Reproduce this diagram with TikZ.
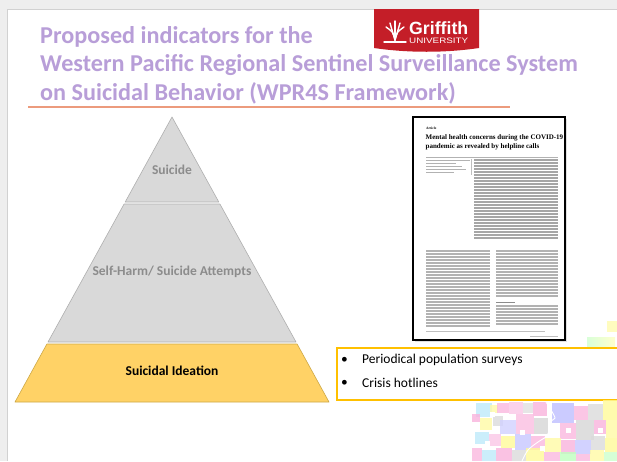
\documentclass[tikz,border=0pt]{standalone}
\usepackage{fontspec}
\setmainfont{Carlito}
\newfontfamily\artserif{Liberation Serif}
\newfontfamily\logosans{Liberation Sans}
\usetikzlibrary{calc}
\definecolor{titlepurple}{RGB}{184,158,216}
\definecolor{rulesalmon}{RGB}{236,155,125}
\definecolor{pyrgray}{RGB}{217,217,217}
\definecolor{pyredge}{RGB}{175,175,175}
\definecolor{pyrtext}{RGB}{140,140,140}
\definecolor{ideafill}{RGB}{255,210,102}
\definecolor{ideaedge}{RGB}{205,168,70}
\definecolor{boxyellow}{RGB}{255,192,0}
\definecolor{griffred}{RGB}{196,30,40}
\definecolor{slidebg}{RGB}{238,238,238}
\tikzset{
  titletext/.style={anchor=base west, inner sep=0pt, text=titlepurple,
    font=\fontsize{24.2}{28}\selectfont\bfseries},
  levelgray/.style={fill=pyrgray, draw=pyredge, line width=0.6pt, line join=round},
  levelyellow/.style={fill=ideafill, draw=ideaedge, line width=0.6pt, line join=round},
  leveltext/.style={inner sep=0pt, text=pyrtext, font=\fontsize{13.5}{15}\selectfont\bfseries},
  bullettext/.style={anchor=west, inner sep=0pt, font=\fontsize{13.5}{15}\selectfont},
  textline/.style={draw=black!30, line width=1.3pt},
  tile/.style={opacity=0.8}
}
\begin{document}
\begin{tikzpicture}[x=1pt,y=-1pt]
\useasboundingbox (0,0) rectangle (617,461);
% window background and slide
\fill[slidebg] (0,0) rectangle (617,461);
\fill[white] (7,9) rectangle (617,461);
\draw[black!18, line width=0.6pt] (7,461) -- (7,9) -- (617,9);

% title
\node[titletext] (title1) at (40,43) {Proposed indicators for the};
\node[titletext] (title2) at (40,71) {Western Pacific Regional Sentinel Surveillance System};
\node[titletext] (title3) at (40,100) {on Suicidal Behavior (WPR4S Framework)};
\draw[rulesalmon, line width=1.1pt] (28,107) -- (510,107);

% university logo
\fill[griffred] (374,9) -- (479,9) -- (479,48)
  .. controls (445,53) and (408,53) .. (374,48) -- cycle;
\begin{scope}[white, line width=1.4pt, line cap=round]
  \draw (384,42) -- (406,42);
  \draw (395,40) .. controls (393,32) .. (386,27);
  \draw (395,40) .. controls (392,30) .. (390,23);
  \draw (395,40) -- (395,21);
  \draw (395,40) .. controls (398,30) .. (400,23);
  \draw (395,40) .. controls (397,32) .. (404,27);
\end{scope}
\node[anchor=base west, inner sep=0pt, text=white] (logoname) at (409,34.5)
  {\resizebox{59pt}{!}{\logosans\bfseries Griffith}};
\node[anchor=north west, inner sep=0pt, text=white] (logouni) at (409,37.5)
  {\resizebox{59pt}{5.5pt}{\logosans UNIVERSITY}};

% pyramid
\coordinate (apex) at (172,117);
\filldraw[levelgray] (apex) -- (218.8,202) -- (125.2,202) -- cycle;
\filldraw[levelgray] (124.1,204) -- (219.9,204) -- (296,342) -- (48,342) -- cycle;
\filldraw[levelyellow] (46.9,344) -- (297.1,344) -- (329,402) -- (15,402) -- cycle;
\node[leveltext] (suicide) at (172,170) {Suicide};
\node[leveltext] (selfharm) at (172,272) {Self-Harm/ Suicide Attempts};
\node[leveltext, text=black] (ideation) at (172,371) {Suicidal Ideation};

% article page
\fill[black!12] (415,119) rectangle (567,342);
\filldraw[fill=white, draw=black, line width=1.2pt] (413,117) rectangle (565,340);
\node[anchor=base west, inner sep=0pt, font=\artserif\bfseries\fontsize{3.5}{4}\selectfont] (arttag) at (426,129) {Article};
\node[anchor=base west, inner sep=0pt, font=\artserif\bfseries\fontsize{7}{8}\selectfont] (arttitle1) at (425.5,139)
  {Mental health concerns during the COVID-19};
\node[anchor=base west, inner sep=0pt, font=\artserif\bfseries\fontsize{7}{8}\selectfont] (arttitle2) at (425.5,148)
  {pandemic as revealed by helpline calls};
\draw[black!30, line width=0.4pt] (426,157) -- (558,157);
\foreach \yy/\len in {160/44,163/30,166/36,169/40,172/28}
  \draw[textline, line width=1pt] (426,\yy) -- ++(\len,0);
\draw[black!25, line width=0.3pt] (471,159) -- (471,175);
\foreach \yy in {160,163,...,238}
  \draw[textline, draw=black!35, line width=1.1pt] (474,\yy) -- (558,\yy);
\foreach \yy in {251,254,...,326}
  \draw[textline] (426,\yy) -- (490,\yy);
\foreach \yy in {251,254,...,296}
  \draw[textline] (496,\yy) -- (558,\yy);
\draw[textline, draw=black!45, line width=1pt] (496,302) -- (515,302);
\foreach \yy in {306,309,...,326}
  \draw[textline] (496,\yy) -- (558,\yy);
\draw[black!25, line width=0.8pt] (426,331) -- (545,331);
\draw[black!25, line width=0.8pt] (530,336) -- (558,336);

% data sources box
\draw[boxyellow, line width=1.2pt] (337,348) rectangle (625,400);
\node[bullettext] (dot1) at (341,360) {\textbullet};
\node[bullettext] (src1) at (362,360) {Periodical population surveys};
\node[bullettext] (dot2) at (341,383) {\textbullet};
\node[bullettext] (src2) at (362,383) {Crisis hotlines};

% decorative tiles
\fill[yellow!25] (607,321) rectangle (617,332);
\shade[left color=green!15, right color=yellow!20] (587,337) rectangle (615,346);
\foreach \tx/\ty/\tw/\th/\tc in {
  476/403/16/14/cyan!25, 490/405/8/8/yellow!35, 497/403/12/10/magenta!28,
  509/402/14/12/magenta!22, 523/403/10/10/black!12, 533/402/14/14/magenta!30,
  552/403/22/20/blue!25, 574/406/14/14/magenta!28, 588/404/15/16/black!14,
  603/400/14/20/yellow!40, 472/414/8/8/magenta!30, 480/418/12/12/yellow!35,
  493/416/10/10/black!14, 500/420/16/14/blue!18, 516/414/18/20/magenta!25,
  534/418/14/16/black!16, 560/423/16/16/magenta!28, 576/420/18/20/black!16,
  594/420/12/14/magenta!30, 606/420/11/18/yellow!35, 475/432/14/12/cyan!25,
  489/434/12/12/magenta!22, 501/436/14/12/yellow!40, 515/434/16/16/blue!22,
  531/436/14/14/magenta!28, 545/438/16/14/yellow!35, 561/440/14/14/magenta!30,
  575/440/16/14/blue!22, 591/436/14/14/black!14, 605/438/12/14/yellow!40,
  472/448/10/13/magenta!28, 482/450/14/11/cyan!25, 496/448/16/13/magenta!30,
  512/450/14/11/black!14, 526/448/18/13/yellow!40, 544/452/16/9/magenta!28,
  560/452/16/9/green!25, 576/454/14/7/magenta!28, 590/450/14/11/yellow!35,
  604/452/13/9/green!20}
  \fill[tile, \tc] (\tx,\ty) rectangle ++(\tw,\th);
\foreach \tx/\ty in {490/412, 520/430, 566/428, 485/441, 540/446, 598/428}
  \fill[white] (\tx,\ty) rectangle ++(5,5);
\draw[white, line width=0.9pt] plot[smooth] coordinates
  {(546,402) (551,410) (555,418) (551,421) (552,426) (549,430) (547,436) (538,442) (528,450) (522,461)};
\end{tikzpicture}
\end{document}
